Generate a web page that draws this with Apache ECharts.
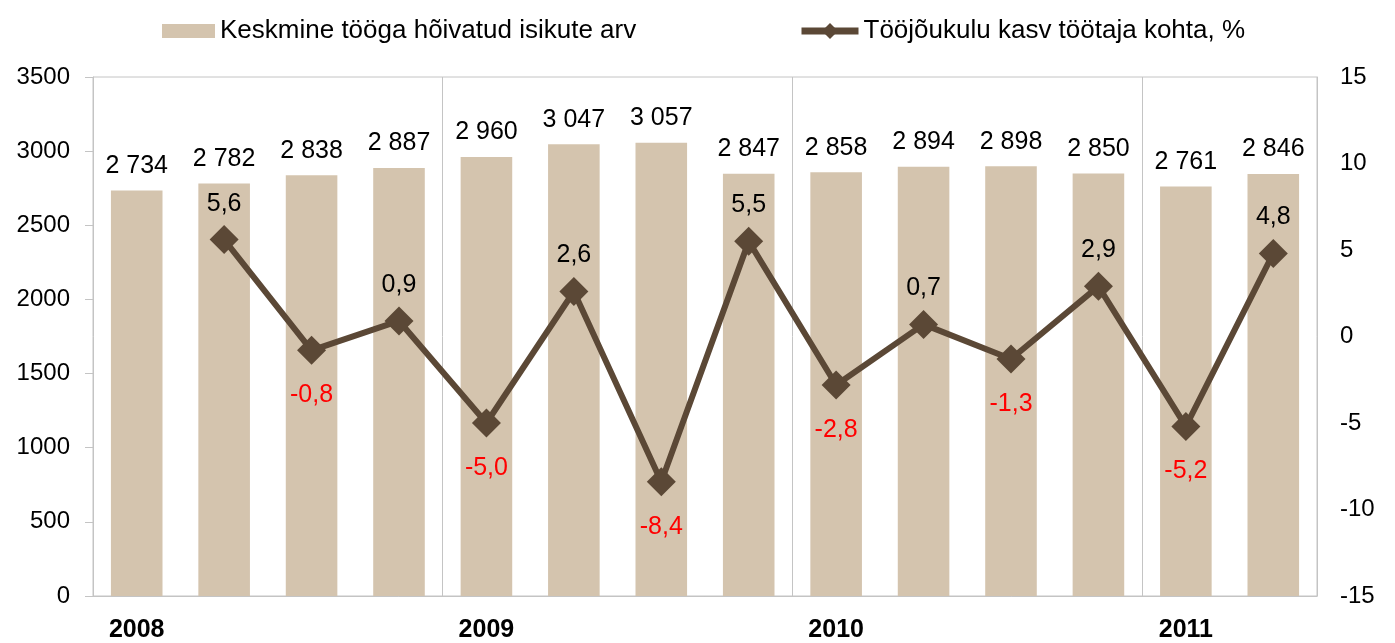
<!DOCTYPE html>
<html>
<head>
<meta charset="utf-8">
<script src="https://cdn.jsdelivr.net/npm/echarts@6/dist/echarts.min.js"></script>
<style>
  html, body { margin: 0; padding: 0; background: #fff; }
  #chart { width: 1395px; height: 643px; }
</style>
</head>
<body>
<div id="chart"></div>
<script>
// kvartalid 2008 I ... 2011 II
const quarters = ['2008 I', '2008 II', '2008 III', '2008 IV',
                  '2009 I', '2009 II', '2009 III', '2009 IV',
                  '2010 I', '2010 II', '2010 III', '2010 IV',
                  '2011 I', '2011 II'];
// keskmine tööga hõivatud isikute arv
const employed = [2734, 2782, 2838, 2887, 2960, 3047, 3057, 2847, 2858, 2894, 2898, 2850, 2761, 2846];
// tööjõukulu kasv töötaja kohta, %
const growth = [null, 5.6, -0.8, 0.9, -5.0, 2.6, -8.4, 5.5, -2.8, 0.7, -1.3, 2.9, -5.2, 4.8];
const leftTicks = { min: 0, max: 3500, interval: 500 };
const rightTicks = { min: -15, max: 15, interval: 5 };

const barName = 'Keskmine tööga hõivatud isikute arv';
const lineName = 'Tööjõukulu kasv töötaja kohta, %';
const font = 'Liberation Sans, Arial, sans-serif';
const gray = '#C4C4C4';
const brown = '#5B4836';

const myChart = echarts.init(document.getElementById('chart'));

const lineData = growth.map(v => {
    if (v === null) return '-';
    const neg = v < 0;
    return {
        value: v,
        label: {
            position: neg ? 'bottom' : 'top',
            distance: neg ? 18 : 9,
            color: neg ? '#FF0000' : '#000'
        }
    };
});

const option = {
    animation: false,
    textStyle: { fontFamily: font },
    legend: [
        {
            data: [{ name: barName, icon: 'rect' }],
            left: 157,
            top: 13,
            itemWidth: 53,
            itemHeight: 14,
            textStyle: { fontSize: 26, color: '#000', fontFamily: font }
        },
        {
            data: [lineName],
            left: 793,
            top: 13,
            itemWidth: 57,
            itemHeight: 20,
            lineStyle: { width: 7, color: brown },
            textStyle: { fontSize: 26, color: '#000', fontFamily: font }
        }
    ],
    grid: {
        left: 93,
        right: 78,
        top: 77,
        bottom: 44,
        show: true,
        borderColor: gray,
        borderWidth: 1
    },
    xAxis: {
        type: 'category',
        data: quarters,
        axisLine: { lineStyle: { color: gray, width: 1 } },
        axisTick: { show: false },
        splitLine: {
            show: true,
            interval: (i) => i > 0 && i % 4 === 0,
            lineStyle: { color: gray, width: 1 }
        },
        axisLabel: {
            interval: 0,
            margin: 22,
            fontSize: 25,
            fontWeight: 'bold',
            color: '#000',
            formatter: (v) => v.endsWith(' I') ? v.split(' ')[0] : ''
        }
    },
    yAxis: [
        {
            type: 'value',
            min: leftTicks.min,
            max: leftTicks.max,
            interval: leftTicks.interval,
            axisLine: { show: true, lineStyle: { color: gray } },
            axisTick: { show: true, length: 8, lineStyle: { color: gray } },
            splitLine: { show: false },
            axisLabel: { margin: 23, fontSize: 24, color: '#000', formatter: (v) => String(v) }
        },
        {
            type: 'value',
            position: 'right',
            min: rightTicks.min,
            max: rightTicks.max,
            interval: rightTicks.interval,
            axisLine: { show: true, lineStyle: { color: gray } },
            axisTick: { show: false },
            splitLine: { show: false },
            axisLabel: { margin: 23, fontSize: 24, color: '#000' }
        }
    ],
    series: [
        {
            name: barName,
            type: 'bar',
            data: employed,
            barCategoryGap: '41%',
            itemStyle: { color: '#D4C4AE' },
            label: {
                show: true,
                position: 'top',
                distance: 12,
                fontSize: 25,
                color: '#000',
                formatter: (p) => String(p.value).replace(/\B(?=(\d{3})+(?!\d))/g, ' ')
            }
        },
        {
            name: lineName,
            type: 'line',
            yAxisIndex: 1,
            data: lineData,
            symbol: 'diamond',
            symbolSize: 29,
            lineStyle: { color: brown, width: 6 },
            itemStyle: { color: brown },
            label: {
                show: true,
                fontSize: 25,
                formatter: (p) => p.value.toFixed(1).replace('.', ',')
            },
            z: 3
        }
    ]
};

myChart.setOption(option);
window.addEventListener('resize', () => myChart.resize());
</script>
</body>
</html>
